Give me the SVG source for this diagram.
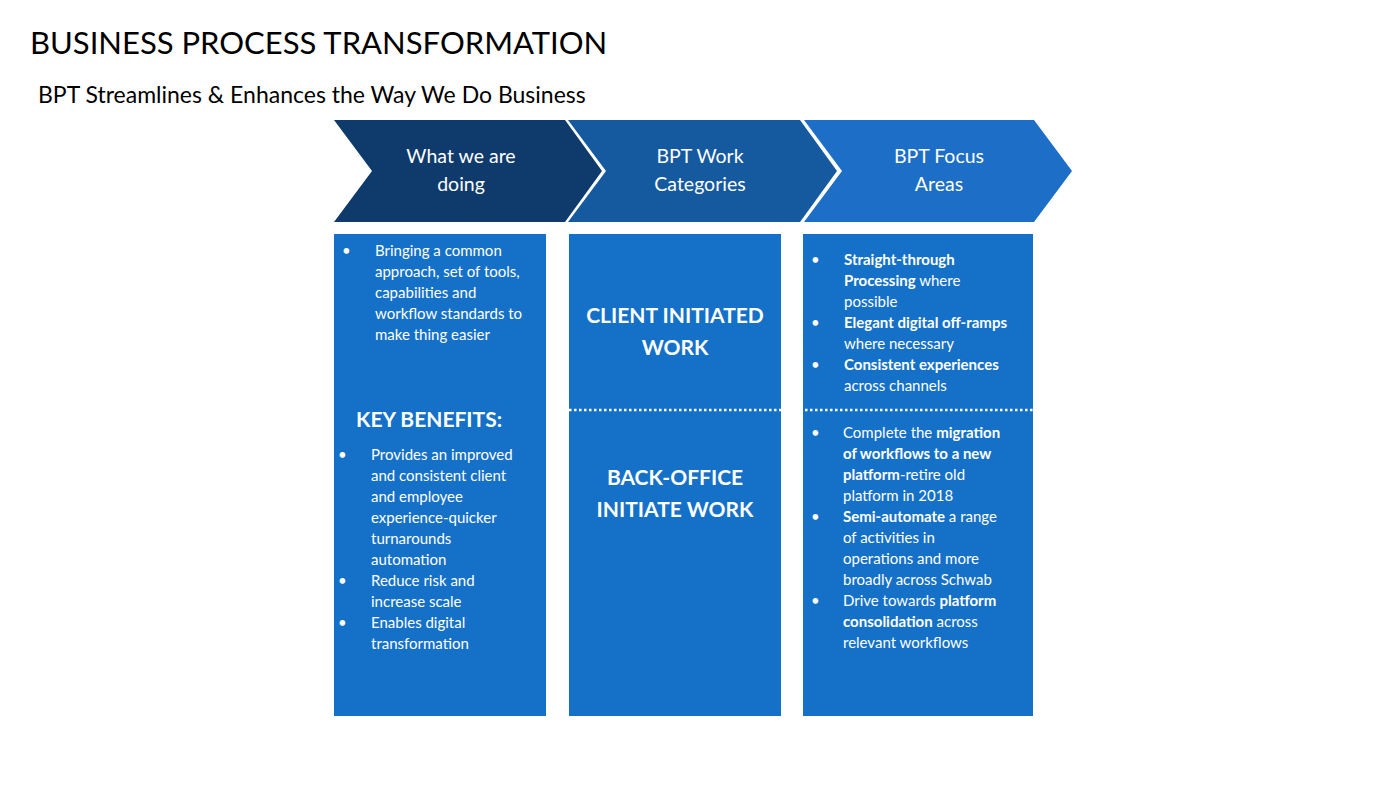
<svg xmlns="http://www.w3.org/2000/svg" width="1400" height="788" viewBox="0 0 1400 788">
<style>
text{font-family:Lato,"Open Sans",sans-serif;fill:#fff}
.t{fill:#000}
.b{font-size:15px}
.h{font-size:21px;font-weight:bold}
.c{font-size:19.5px;text-anchor:middle}
.box{fill:#1570c8}
.dot{stroke:#fff;stroke-width:2.5;stroke-dasharray:2.5 2.5}
</style>
<rect width="1400" height="788" fill="#fff"/>
<text class="t" x="30" y="54" font-size="31">BUSINESS PROCESS TRANSFORMATION</text>
<text class="t" x="38" y="103" font-size="23">BPT Streamlines &amp; Enhances the Way We Do Business</text>
<g id="chevron1"><polygon points="334,120 565,120 602,171 565,222 334,222 372,171" fill="#0f3b6c"/><text class="c" x="461" y="163">What we are</text><text class="c" x="461" y="191">doing</text></g>
<g id="chevron2"><polygon points="568,120 800,120 837,171 800,222 568,222 606,171" fill="#15599f"/><text class="c" x="700" y="163">BPT Work</text><text class="c" x="700" y="191">Categories</text></g>
<g id="chevron3"><polygon points="804,120 1034,120 1072,171 1034,222 804,222 842,171" fill="#1d6ec6"/><text class="c" x="939" y="163">BPT Focus</text><text class="c" x="939" y="191">Areas</text></g>
<g id="box1"><rect class="box" x="334" y="234" width="212" height="482"/>
<g class="b"><text x="342" y="256">•</text><text x="375" y="256">Bringing a common</text><text x="375" y="277">approach, set of tools,</text><text x="375" y="298">capabilities and</text><text x="375" y="319">workflow standards to</text><text x="375" y="340">make thing easier</text></g>
<text class="h" x="356" y="427">KEY BENEFITS:</text>
<g class="b"><text x="338" y="460">•</text><text x="371" y="460">Provides an improved</text><text x="371" y="481">and consistent client</text><text x="371" y="502">and employee</text><text x="371" y="523">experience-quicker</text><text x="371" y="544">turnarounds</text><text x="371" y="565">automation</text><text x="338" y="586">•</text><text x="371" y="586">Reduce risk and</text><text x="371" y="607">increase scale</text><text x="338" y="628">•</text><text x="371" y="628">Enables digital</text><text x="371" y="649">transformation</text></g></g>
<g id="box2"><rect class="box" x="569" y="234" width="212" height="482"/>
<text class="h" x="675" y="323" text-anchor="middle">CLIENT INITIATED</text><text class="h" x="675" y="355" text-anchor="middle">WORK</text>
<text class="h" x="675" y="485" text-anchor="middle">BACK-OFFICE</text><text class="h" x="675" y="517" text-anchor="middle">INITIATE WORK</text></g>
<g id="box3"><rect class="box" x="803" y="234" width="230" height="482"/>
<g class="b"><text x="811" y="265">•</text><text x="844" y="265" font-weight="bold">Straight-through</text><text x="844" y="286"><tspan font-weight="bold">Processing</tspan> where</text><text x="844" y="307">possible</text>
<text x="811" y="328">•</text><text x="844" y="328" font-weight="bold">Elegant digital off-ramps</text><text x="844" y="349">where necessary</text>
<text x="811" y="370">•</text><text x="844" y="370" font-weight="bold">Consistent experiences</text><text x="844" y="391">across channels</text>
<text x="811" y="438">•</text><text x="843" y="438">Complete the <tspan font-weight="bold">migration</tspan></text><text x="843" y="459" font-weight="bold">of workflows to a new</text><text x="843" y="480"><tspan font-weight="bold">platform</tspan>-retire old</text><text x="843" y="501">platform in 2018</text>
<text x="811" y="522">•</text><text x="843" y="522"><tspan font-weight="bold">Semi-automate</tspan> a range</text><text x="843" y="543">of activities in</text><text x="843" y="564">operations and more</text><text x="843" y="585">broadly across Schwab</text>
<text x="811" y="606">•</text><text x="843" y="606">Drive towards  <tspan font-weight="bold">platform</tspan></text><text x="843" y="627"><tspan font-weight="bold">consolidation</tspan> across</text><text x="843" y="648">relevant workflows</text></g></g>
<g id="connectors"><line class="dot" x1="569" y1="410" x2="781" y2="410"/><line class="dot" x1="805" y1="410" x2="1033" y2="410"/></g>
</svg>
